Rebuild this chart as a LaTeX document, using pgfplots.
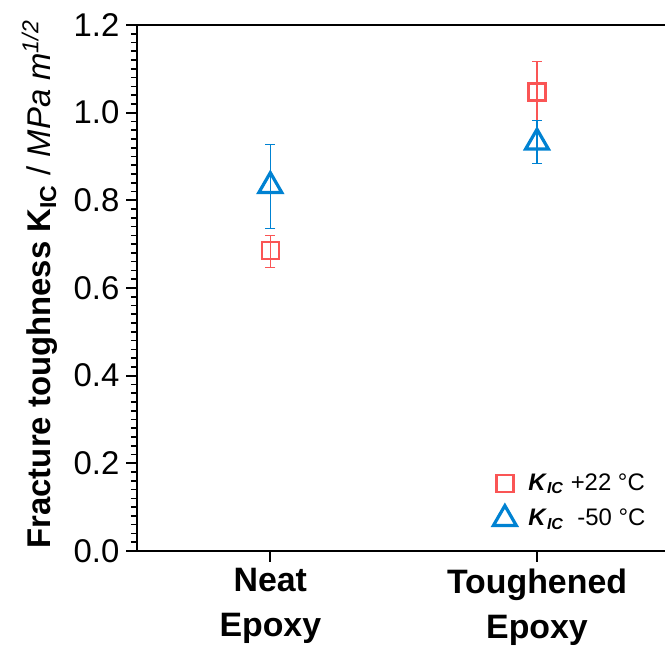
\documentclass[border=0pt]{standalone}
\usepackage{fontspec}
\setmainfont{Liberation Sans}
\usepackage{pgfplots}
\pgfplotsset{compat=1.18}
\definecolor{cred}{RGB}{250,85,85}
\definecolor{cblue}{RGB}{0,130,210}
\begin{document}
\begin{tikzpicture}
\useasboundingbox (-68.5bp,-47.5bp) rectangle (264bp,275.5bp);
\begin{axis}[
  scale only axis, width=264bp, height=263bp,
  xmin=-0.5, xmax=1.48, ymin=0, ymax=1.2,
  axis x line=box, axis y line=left,
  axis line style={line width=1.2bp, -},
  xtick={0,1},
  xticklabels={{Neat\\Epoxy},{Toughened\\Epoxy}},
  xticklabel style={align=center, font=\bfseries\fontsize{17}{22.5}\selectfont},
  ytick={0,0.2,0.4,0.6,0.8,1.0,1.2},
  minor ytick={0.02,0.04,...,1.19},
  yticklabel style={font=\fontsize{16.5}{18}\selectfont},
  /pgf/number format/.cd, fixed, fixed zerofill, precision=1, assume math mode=true,
  /pgfplots/.cd,
  xtick pos=bottom, ytick pos=left,
  tick align=outside,
  major tick length=5.3bp, minor tick length=3bp,
  every tick/.style={black, line width=1bp},
  every minor tick/.style={black, line width=0.8bp},
  ylabel={\textbf{Fracture toughness K\textsubscript{IC}} / \textit{MPa m\textsuperscript{1/2}}},
  ylabel style={at={(axis description cs:-0.184,0.507)}, anchor=center, font=\fontsize{16.5}{18}\selectfont},
  legend style={draw=none, fill=none, at={(axis description cs:0.663,0.095)}, anchor=west,
    font=\fontsize{12}{14}\selectfont, row sep=4bp, column sep=4bp},
  legend cell align=left,
]
\addplot+[only marks, mark=square, mark size=4.25bp, color=cred,
  mark options={fill=white, line width=1.2bp, color=cred},
  error bars/.cd, y dir=both, y explicit,
  error bar style={line width=0.6bp, color=cred},
  error mark options={rotate=90, mark size=2.5bp, line width=0.6bp, color=cred}]
  table[x=x, y=y, y error plus=ep, y error minus=em] {
x y ep em
0 0.685 0.035 0.039
1 1.047 0.070 0.064
};
\addlegendentry{\textbf{\textit{K}}\textsubscript{\textbf{\textit{IC}}} +22 °C}
\addplot+[only marks, mark=triangle, mark size=6.6bp, color=cblue,
  mark options={fill=white, line width=1.6bp, color=cblue},
  error bars/.cd, y dir=both, y explicit,
  error bar style={line width=0.6bp, color=cblue},
  error mark options={rotate=90, mark size=2.5bp, line width=0.6bp, color=cblue}]
  table[x=x, y=y, y error plus=ep, y error minus=em] {
x y ep em
0 0.833 0.094 0.098
1 0.932 0.051 0.048
};
\addlegendentry{\textbf{\textit{K}}\textsubscript{\textbf{\textit{IC}}}\ \ -50 °C}
\end{axis}
\end{tikzpicture}
\end{document}
